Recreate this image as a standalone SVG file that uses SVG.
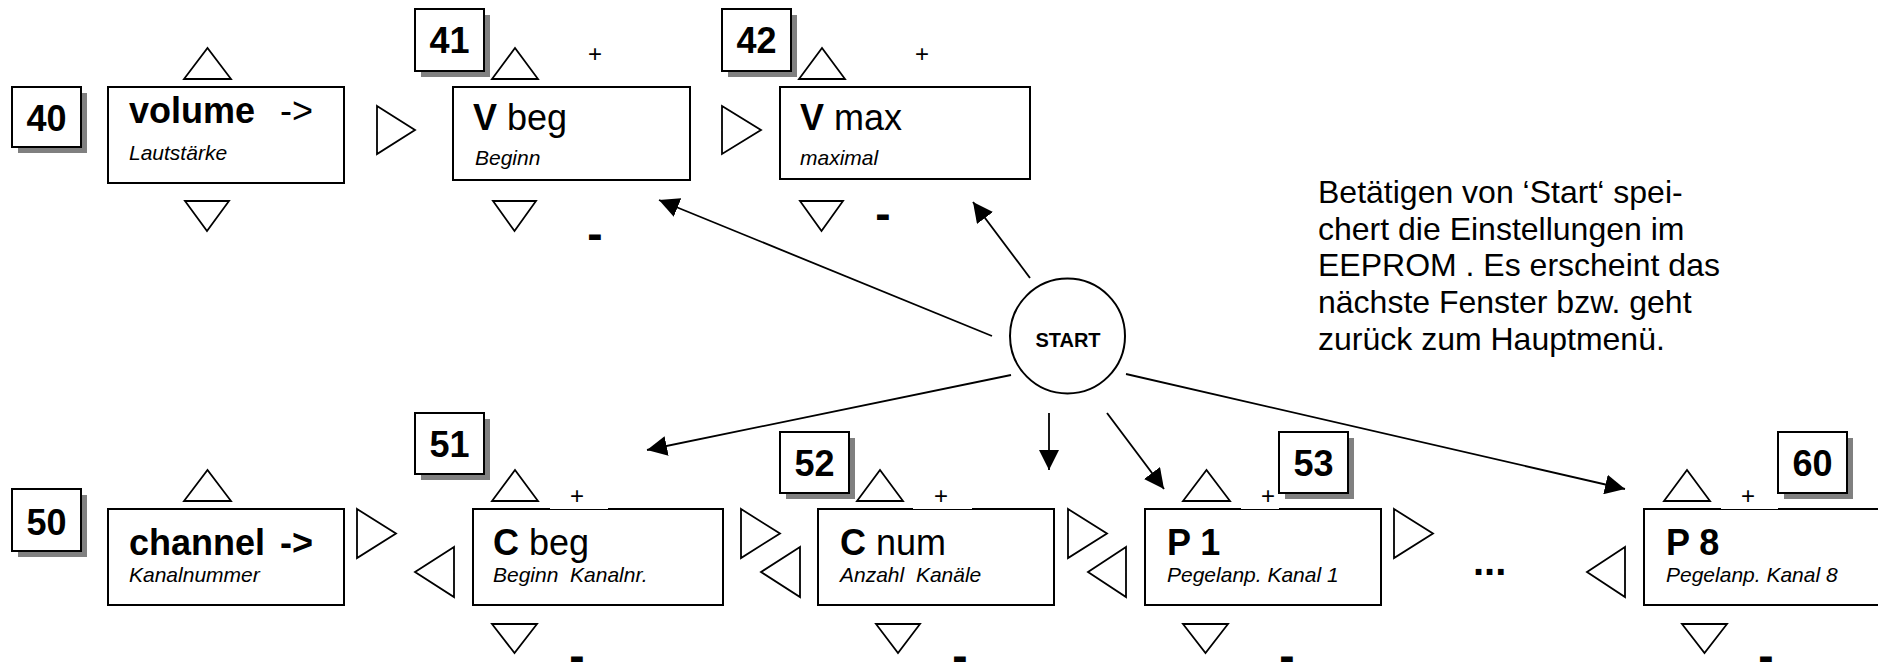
<svg xmlns="http://www.w3.org/2000/svg" width="1878" height="667" viewBox="0 0 1878 667">
<style>
text{font-family:"Liberation Sans",Arial,sans-serif;fill:#000}
.box{fill:#fff;stroke:#000;stroke-width:2}
.badge{fill:#fff;stroke:#000;stroke-width:2}
.shadow{fill:#808080}
.num{font-size:36px;font-weight:bold;text-anchor:middle}
.tri{fill:#fff;stroke:#000;stroke-width:1.8}
.lbl{font-size:36px}
.b{font-weight:bold}
.sub{font-size:21px;font-style:italic;white-space:pre}
.plus{font-size:24px;text-anchor:middle}
.minus{font-size:46px;font-weight:bold;text-anchor:middle}
.gap{fill:#fff}
.conn{stroke:#000;stroke-width:1.8;fill:none;marker-end:url(#ah)}
.note{font-size:32px}
</style>
<defs>
<marker id="ah" markerUnits="userSpaceOnUse" markerWidth="20" markerHeight="20" refX="20" refY="10" orient="auto"><path d="M0,0 L20,10 L0,20 z" fill="#000"/></marker>
</defs>
<rect width="1878" height="667" fill="#fff"/>

<g id="connectors">
<line class="conn" x1="992" y1="336" x2="659" y2="200"/>
<line class="conn" x1="1030" y1="278" x2="973" y2="202"/>
<line class="conn" x1="1011" y1="375" x2="647" y2="450"/>
<line class="conn" x1="1049" y1="413" x2="1049" y2="470"/>
<line class="conn" x1="1107" y1="413" x2="1164" y2="489"/>
<line class="conn" x1="1126" y1="374" x2="1625" y2="489"/>
</g>

<g id="n40">
<rect class="shadow" x="18" y="93" width="69" height="60"/>
<rect class="badge" x="12" y="87" width="69" height="60"/>
<text class="num" x="46.5" y="131">40</text>
</g>
<g id="volume">
<rect class="box" x="108" y="87" width="236" height="96"/>
<text class="lbl" x="129" y="123"><tspan class="b">volume</tspan></text>
<text class="lbl" x="280" y="123">-&gt;</text>
<text class="sub" x="129" y="160">Lautstärke</text>
<polygon class="tri" points="184,79 231,79 207.5,48"/>
<polygon class="tri" points="185,201 229,201 207,231"/>
<polygon class="tri" points="377,106 415,130 377,154"/>
</g>

<g id="n41">
<rect class="shadow" x="421" y="15" width="69" height="62"/>
<rect class="badge" x="415" y="9" width="69" height="62"/>
<text class="num" x="449.5" y="53">41</text>
</g>
<g id="vbeg">
<rect class="box" x="453" y="87" width="237" height="93"/>
<text class="lbl" x="473" y="130"><tspan class="b">V</tspan> beg</text>
<text class="sub" x="475" y="165">Beginn</text>
<polygon class="tri" points="492,79 538,79 515,48"/>
<text class="plus" x="595" y="61.5">+</text>
<polygon class="tri" points="493,201 536,201 514.5,231"/>
<text class="minus" x="595" y="248.5">-</text>
<polygon class="tri" points="722,106 761,130 722,154"/>
</g>

<g id="n42">
<rect class="shadow" x="728" y="15" width="69" height="62"/>
<rect class="badge" x="722" y="9" width="69" height="62"/>
<text class="num" x="756.5" y="53">42</text>
</g>
<g id="vmax">
<rect class="box" x="780" y="87" width="250" height="92"/>
<text class="lbl" x="800" y="130"><tspan class="b">V</tspan> max</text>
<text class="sub" x="800" y="165">maximal</text>
<polygon class="tri" points="799,79 845,79 822,48"/>
<text class="plus" x="922" y="61.5">+</text>
<polygon class="tri" points="800,201 843,201 821.5,231"/>
<text class="minus" x="883" y="228.5">-</text>
</g>

<g id="start">
<circle cx="1067.5" cy="336" r="57.5" fill="#fff" stroke="#000" stroke-width="2"/>
<text x="1068" y="347" font-size="20" font-weight="bold" text-anchor="middle">START</text>
</g>

<g id="note">
<text class="note" x="1318" y="203">Betätigen von ‘Start‘ spei-</text>
<text class="note" x="1318" y="239.5">chert die Einstellungen im</text>
<text class="note" x="1318" y="276">EEPROM . Es erscheint das</text>
<text class="note" x="1318" y="313">nächste Fenster bzw. geht</text>
<text class="note" x="1318" y="350">zurück zum Hauptmenü.</text>
</g>

<g id="n50">
<rect class="shadow" x="18" y="495" width="69" height="62"/>
<rect class="badge" x="12" y="489" width="69" height="62"/>
<text class="num" x="46.5" y="535">50</text>
</g>
<g id="channel">
<rect class="box" x="108" y="509" width="236" height="96"/>
<text class="lbl b" x="129" y="555">channel</text>
<text class="lbl b" x="280" y="555">-&gt;</text>
<text class="sub" x="129" y="582">Kanalnummer</text>
<polygon class="tri" points="184,501 231,501 207.5,470"/>
<polygon class="tri" points="357,509 396,533.5 357,558"/>
</g>

<g id="n51">
<rect class="shadow" x="421" y="419" width="69" height="61"/>
<rect class="badge" x="415" y="413" width="69" height="61"/>
<text class="num" x="449.5" y="457">51</text>
</g>
<g id="cbeg">
<polygon class="tri" points="454,547 415,572 454,597"/>
<rect class="box" x="473" y="509" width="250" height="96"/>
<rect class="gap" x="550" y="496" width="58" height="13"/>
<text class="plus" x="577" y="503.5">+</text>
<text class="lbl" x="493" y="555"><tspan class="b">C</tspan> beg</text>
<text class="sub" x="493" y="582">Beginn  Kanalnr.</text>
<polygon class="tri" points="492,501 538,501 515,470"/>
<polygon class="tri" points="492,624 537,624 514.5,653"/>
<text class="minus" x="577" y="671">-</text>
<polygon class="tri" points="741,509 780,533.5 741,558"/>
</g>

<g id="n52">
<rect class="shadow" x="786" y="438" width="69" height="61"/>
<rect class="badge" x="780" y="432" width="69" height="61"/>
<text class="num" x="814.5" y="476">52</text>
</g>
<g id="cnum">
<polygon class="tri" points="800,547 761,572 800,597"/>
<rect class="box" x="818" y="509" width="236" height="96"/>
<rect class="gap" x="913" y="496" width="59" height="13"/>
<text class="plus" x="941" y="503.5">+</text>
<text class="lbl" x="840" y="555"><tspan class="b">C</tspan> num</text>
<text class="sub" x="840" y="582">Anzahl  Kanäle</text>
<polygon class="tri" points="857,501 903,501 880,470"/>
<polygon class="tri" points="876,624 920,624 898,653"/>
<text class="minus" x="960" y="671">-</text>
<polygon class="tri" points="1068,509 1107,533.5 1068,558"/>
</g>

<g id="n53">
<rect class="shadow" x="1285" y="438" width="69" height="61"/>
<rect class="badge" x="1279" y="432" width="69" height="61"/>
<text class="num" x="1313.5" y="476">53</text>
</g>
<g id="p1">
<polygon class="tri" points="1126,547 1088,572 1126,597"/>
<rect class="box" x="1145" y="509" width="236" height="96"/>
<rect class="gap" x="1241" y="496" width="38" height="13"/>
<text class="plus" x="1268" y="503.5">+</text>
<text class="lbl b" x="1167" y="555">P 1</text>
<text class="sub" x="1167" y="582">Pegelanp. Kanal 1</text>
<polygon class="tri" points="1183,501 1230,501 1206.5,470"/>
<polygon class="tri" points="1183,624 1228,624 1205.5,653"/>
<text class="minus" x="1287" y="671">-</text>
<polygon class="tri" points="1394,509 1433,533.5 1394,558"/>
</g>

<g id="ellipsis">
<text x="1473" y="575" font-size="40" font-weight="bold">...</text>
</g>

<g id="n60">
<rect class="shadow" x="1784" y="438" width="69" height="61"/>
<rect class="badge" x="1778" y="432" width="69" height="61"/>
<text class="num" x="1812.5" y="476">60</text>
</g>
<g id="p8">
<polygon class="tri" points="1625,547 1587,572 1625,597"/>
<rect class="box" x="1644" y="509" width="250" height="96"/>
<rect class="gap" x="1721" y="496" width="57" height="13"/>
<text class="plus" x="1748" y="503.5">+</text>
<text class="lbl b" x="1666" y="555">P 8</text>
<text class="sub" x="1666" y="582">Pegelanp. Kanal 8</text>
<polygon class="tri" points="1664,501 1710,501 1687,470"/>
<polygon class="tri" points="1682,624 1727,624 1704.5,653"/>
<text class="minus" x="1766" y="671">-</text>
</g>
</svg>
